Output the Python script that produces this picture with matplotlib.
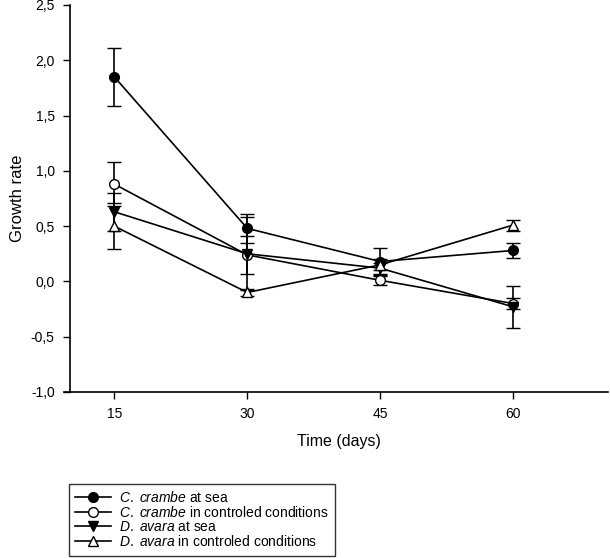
import matplotlib
matplotlib.use("Agg")
import matplotlib.pyplot as plt
from matplotlib.lines import Line2D
from matplotlib.ticker import FuncFormatter

plt.rcParams['font.family'] = ['Liberation Sans', 'DejaVu Sans']
plt.rcParams['mathtext.fontset'] = 'custom'
plt.rcParams['mathtext.it'] = 'Liberation Sans:italic'
plt.rcParams['mathtext.rm'] = 'Liberation Sans'

days = [15, 30, 45, 60]

crambe_sea = [1.85, 0.48, 0.18, 0.28]
crambe_sea_err = [0.26, 0.13, 0.12, 0.07]

crambe_ctrl = [0.88, 0.24, 0.01, -0.20]
crambe_ctrl_err = [0.20, 0.17, 0.04, 0.05]

avara_sea = [0.63, 0.25, 0.12, -0.23]
avara_sea_err = [0.17, 0.33, 0.05, 0.19]

avara_ctrl = [0.50, -0.10, 0.15, 0.51]
avara_ctrl_err = [0.21, 0.03, 0.05, 0.05]

labels = [r"$\mathit{C.}$ $\mathit{crambe}$ at sea",
          r"$\mathit{C.}$ $\mathit{crambe}$ in controled conditions",
          r"$\mathit{D.}$ $\mathit{avara}$ at sea",
          r"$\mathit{D.}$ $\mathit{avara}$ in controled conditions"]


def comma(v, pos):
    return f"{v:.1f}".replace('.', ',')


fig = plt.figure(figsize=(6.1, 5.58), dpi=100)
ax = fig.add_axes([70 / 610, 1 - 392 / 558, 538 / 610, 387 / 558])

series = [
    (crambe_sea, crambe_sea_err, 'o', 'black'),
    (crambe_ctrl, crambe_ctrl_err, 'o', 'white'),
    (avara_sea, avara_sea_err, 'v', 'black'),
    (avara_ctrl, avara_ctrl_err, '^', 'white'),
]
handles = []
for (vals, errs, mk, fc), lab in zip(series, labels):
    ax.errorbar(days, vals, yerr=errs, color='black', ecolor='black',
                marker=mk, markerfacecolor=fc, markeredgecolor='black',
                markersize=7, markeredgewidth=1, linewidth=1.2,
                elinewidth=1.2, capsize=5, capthick=1.2, zorder=3)
    handles.append(Line2D([], [], color='black', marker=mk, markerfacecolor=fc,
                          markeredgecolor='black', markersize=7, linewidth=1.2))

ax.set_xlim(10, 70.7)
ax.set_ylim(-1.0, 2.5)
ax.set_xticks(days)
ax.set_yticks([-1.0, -0.5, 0.0, 0.5, 1.0, 1.5, 2.0, 2.5])
ax.yaxis.set_major_formatter(FuncFormatter(comma))
ax.tick_params(direction='out', length=5, width=1, labelsize=10, pad=6)

ax.spines['top'].set_visible(False)
ax.spines['right'].set_visible(False)
ax.spines['left'].set_linewidth(1.2)
ax.spines['bottom'].set_linewidth(1.2)
# x axis line sticks out a little to the left of the y axis
ax.add_line(Line2D([-0.011, 0], [0, 0], transform=ax.transAxes, color='black',
                   linewidth=1.2, clip_on=False))

ax.set_xlabel('Time (days)', fontsize=11.5, labelpad=9)
ax.set_ylabel('Growth rate', fontsize=12, labelpad=4)

leg = fig.legend(handles, labels, loc='upper left',
                 bbox_to_anchor=(69 / 610, 1 - 484 / 558), borderaxespad=0,
                 fontsize=10, frameon=True, fancybox=False, edgecolor='black',
                 handlelength=2.6, handletextpad=0.55, labelspacing=0.0,
                 borderpad=0.45)
leg.get_frame().set_linewidth(1.0)

fig.savefig('out.png', dpi=100)
